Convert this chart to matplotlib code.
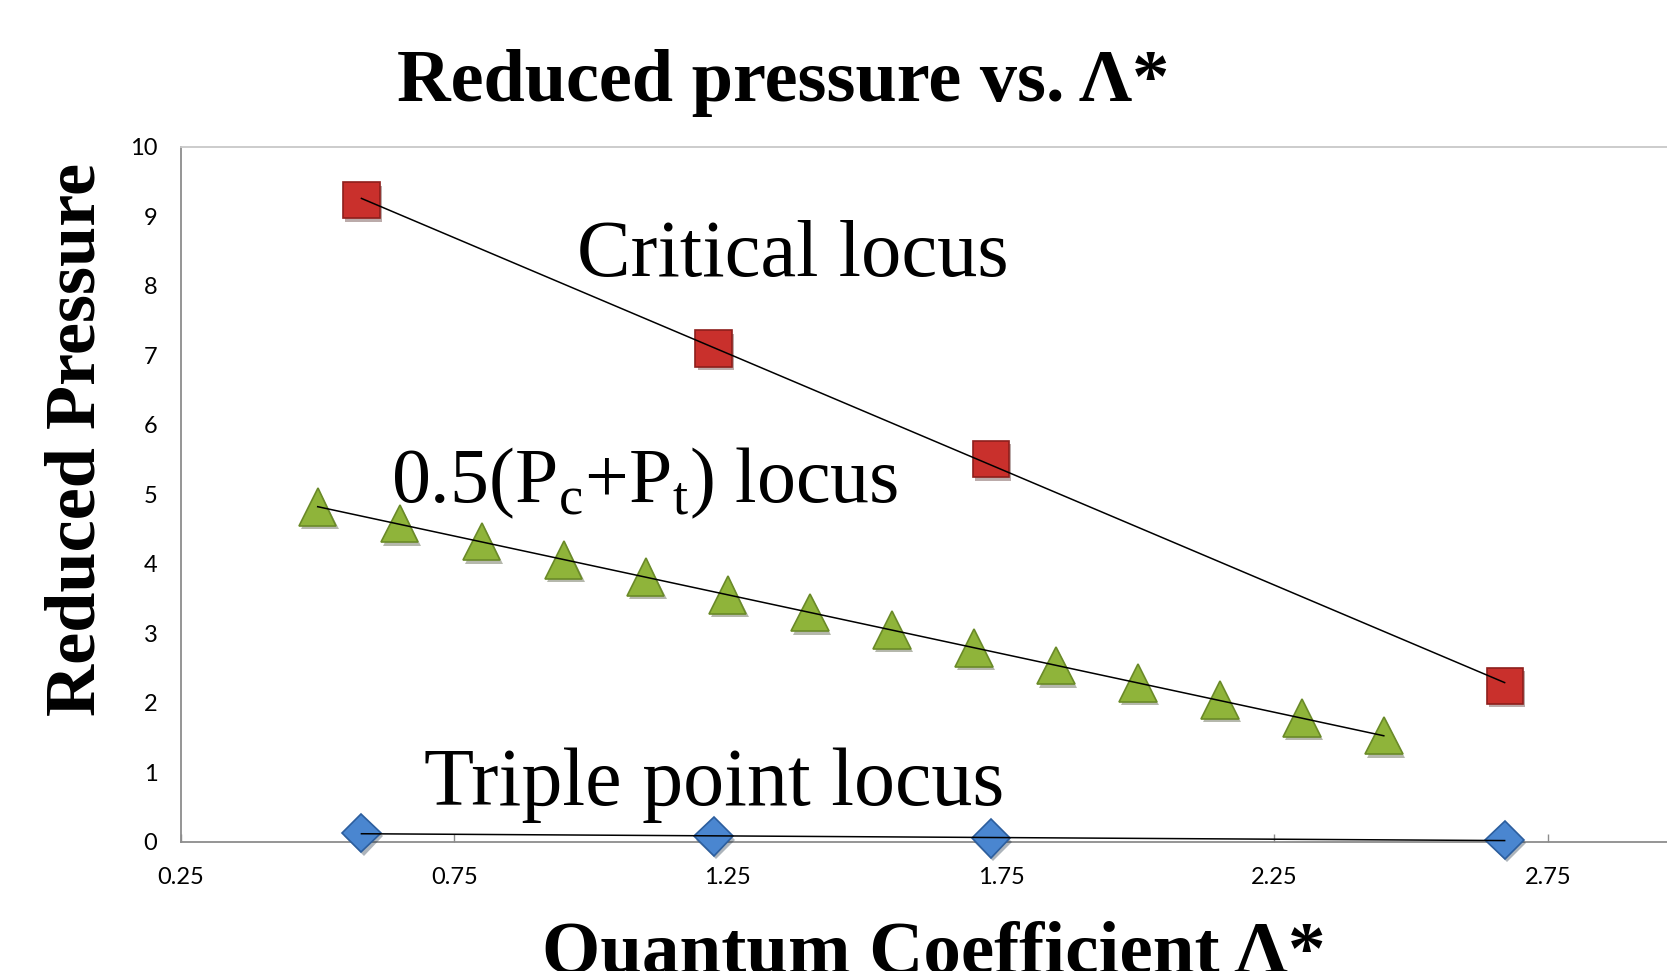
import numpy as np
import matplotlib
matplotlib.use("Agg")
import matplotlib.pyplot as plt
import matplotlib.patheffects as pe

# data
lam_main = [0.58, 1.224, 1.731, 2.671]
p_critical = [9.23, 7.10, 5.51, 2.25]
p_triple = [0.13, 0.08, 0.05, 0.03]

lam_mid = [0.50, 0.65, 0.80, 0.95, 1.10, 1.25, 1.40, 1.55, 1.70, 1.85, 2.00, 2.15, 2.30, 2.45]
p_mid = [4.82, 4.58, 4.32, 4.06, 3.81, 3.55, 3.30, 3.05, 2.79, 2.54, 2.29, 2.04, 1.78, 1.53]

x_ticks = [0.25, 0.75, 1.25, 1.75, 2.25, 2.75]
y_ticks = list(range(0, 11))

plt.rcParams['mathtext.fontset'] = 'custom'
plt.rcParams['mathtext.rm'] = 'Liberation Serif'

fig = plt.figure(figsize=(16.67, 9.71), dpi=100)
ax = fig.add_axes([0.1086, 0.1329, 1 - 0.1086, 0.7158])

shadow = [pe.SimplePatchShadow(offset=(1.5, -2.5), alpha=0.35), pe.Normal()]

ax.plot(lam_main, p_critical, ls='none', marker='s', ms=26, mfc='#c9302c', mec='#8e1f1c',
        mew=1.2, path_effects=shadow, zorder=3, clip_on=False)
ax.plot(lam_mid, p_mid, ls='none', marker='^', ms=27, mfc='#8fb43a', mec='#6a8a28',
        mew=1.2, path_effects=shadow, zorder=3, clip_on=False)
ax.plot(lam_main, p_triple, ls='none', marker='D', ms=19.5, mfc='#4a86d0', mec='#2c5e9e',
        mew=1.2, path_effects=shadow, zorder=3, clip_on=False)

# linear trendlines
for xs, ys in [(lam_main, p_critical), (lam_mid, p_mid), (lam_main, p_triple)]:
    k, b = np.polyfit(xs, ys, 1)
    xx = np.array([min(xs), max(xs)])
    ax.plot(xx, k * xx + b, color='black', lw=1.1, zorder=4, clip_on=False)

ax.set_xlim(0.25, 2.968)
ax.set_ylim(0, 10)
ax.set_xticks(x_ticks)
ax.set_xticklabels([f"{t:.2f}" for t in x_ticks])
ax.set_yticks(y_ticks)
ax.tick_params(axis='x', direction='in', length=6, width=1, color='#8c8c8c', pad=18,
               labelsize=17)
ax.tick_params(axis='y', length=0, pad=17, labelsize=17)
for lab in ax.get_xticklabels() + ax.get_yticklabels():
    lab.set_fontfamily('Lato')

ax.spines['right'].set_visible(False)
ax.spines['left'].set_color('#8c8c8c')
ax.spines['bottom'].set_color('#8c8c8c')
ax.spines['top'].set_color('#c8c8c8')
for s in ['left', 'bottom', 'top']:
    ax.spines[s].set_linewidth(1.3)

serif = 'Liberation Serif'
ax.text(0.974, 8.14, 'Critical locus', fontsize=58, family=serif, va='baseline')
ax.text(0.634, 4.89, r'0.5(P$_{\rm c}$+P$_{\rm t}$) locus', fontsize=56, family=serif,
        va='baseline')
ax.text(0.694, 0.53, 'Triple point locus', fontsize=59, family=serif, va='baseline')

fig.text(0.470, 0.896, 'Reduced pressure vs. Λ*', fontsize=53.5, family=serif,
         weight='bold', ha='center', va='baseline')
fig.text(0.046, 0.547, 'Reduced Pressure', fontsize=52, family=serif, weight='bold',
         rotation=90, ha='center', va='center')
fig.text(0.56, -0.002, 'Quantum Coefficient Λ*', fontsize=54, family=serif,
         weight='bold', ha='center', va='baseline')

fig.savefig('out.png', dpi=100)
